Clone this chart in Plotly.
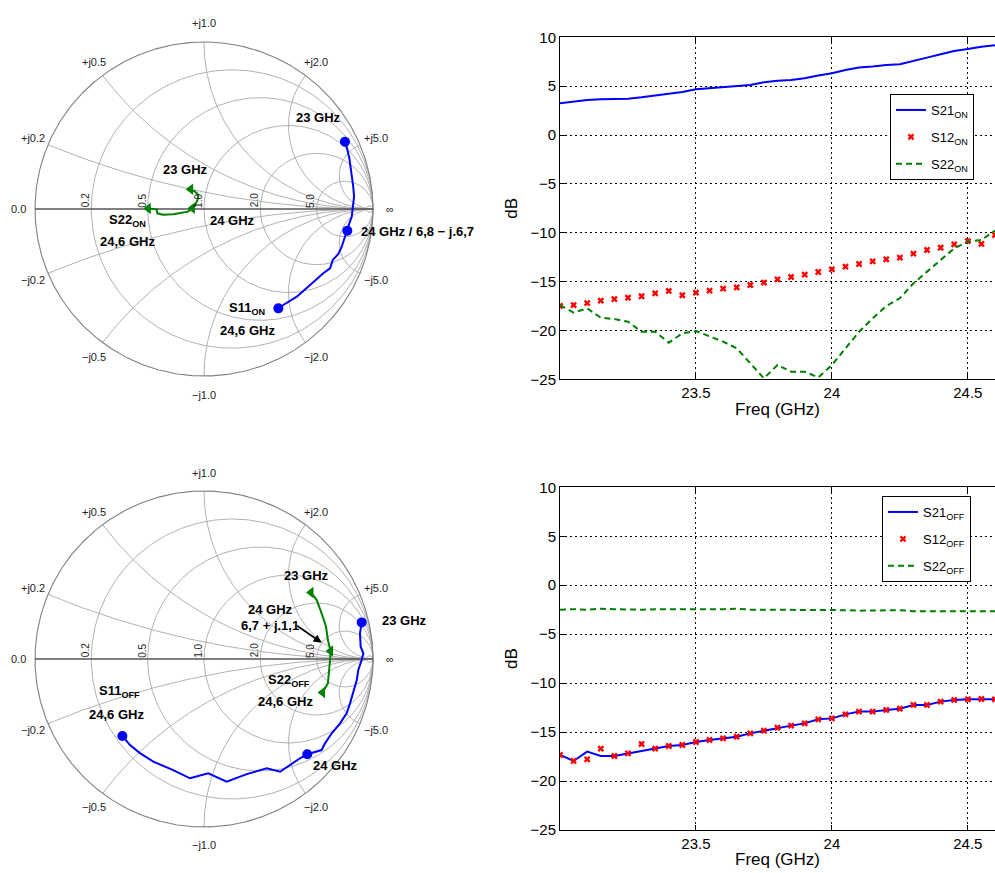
import numpy as np
import plotly.graph_objects as go

# ---------------- DATA ----------------
freq_ghz = [23.00, 23.05, 23.10, 23.15, 23.20, 23.25, 23.30, 23.35, 23.40, 23.45, 23.50,
            23.55, 23.60, 23.65, 23.70, 23.75, 23.80, 23.85, 23.90, 23.95, 24.00,
            24.05, 24.10, 24.15, 24.20, 24.25, 24.30, 24.35, 24.40, 24.45, 24.50,
            24.55, 24.60]

s21_on = [3.24, 3.41, 3.59, 3.65, 3.65, 3.72, 3.86, 4.06, 4.27, 4.40, 4.68,
          4.78, 4.85, 4.95, 5.12, 5.39, 5.56, 5.63, 5.80, 6.08, 6.32,
          6.66, 6.90, 7.00, 7.17, 7.24, 7.61, 7.92, 8.26, 8.60, 8.81,
          9.04, 9.18]
s12_on = [-17.5, -17.4, -17.2, -16.95, -16.8, -16.65, -16.5, -16.2, -15.96, -16.4, -16.13,
          -15.93, -15.72, -15.6, -15.35, -15.1, -14.77, -14.53, -14.29, -14.02, -13.75,
          -13.47, -13.2, -12.93, -12.72, -12.55, -12.14, -11.77, -11.53, -11.19, -10.85,
          -11.15, -10.23]
s22_on = [-17.4, -18.18, -17.74, -18.7, -18.83, -19.1, -20.13, -20.13, -21.25, -20.3, -20.06,
          -20.64, -21.15, -21.83, -23.37, -24.9, -23.54, -24.22, -24.22, -24.8, -23.54,
          -21.83, -20.13, -18.76, -17.5, -16.71, -15.18, -13.98, -12.79, -11.6, -10.91,
          -10.74, -9.79]

s21_off = [-17.34, -17.95, -17.0, -17.44, -17.44, -17.17, -16.93, -16.69, -16.42, -16.32, -16.01,
           -15.81, -15.64, -15.47, -15.13, -14.86, -14.55, -14.34, -14.11, -13.7, -13.6,
           -13.19, -12.91, -12.91, -12.74, -12.61, -12.23, -12.23, -11.89, -11.72, -11.65,
           -11.62, -11.65]
s12_off = [-17.34, -17.95, -17.78, -16.69, -17.44, -17.17, -16.22, -16.69, -16.42, -16.32, -16.01,
           -15.81, -15.64, -15.47, -15.13, -14.86, -14.55, -14.34, -14.11, -13.7, -13.6,
           -13.19, -12.91, -12.91, -12.74, -12.61, -12.23, -12.23, -11.89, -11.72, -11.65,
           -11.62, -11.65]
s22_off = [-2.5, -2.45, -2.5, -2.4, -2.45, -2.5, -2.5, -2.45, -2.45, -2.45, -2.5,
           -2.45, -2.45, -2.4, -2.5, -2.5, -2.5, -2.5, -2.5, -2.5, -2.5,
           -2.55, -2.6, -2.6, -2.6, -2.55, -2.65, -2.65, -2.65, -2.65, -2.7,
           -2.7, -2.65]

# Smith chart traces (reflection coefficient, real / imaginary parts)
s11_on_re = [0.834, 0.844, 0.860, 0.870, 0.880, 0.883, 0.888, 0.883, 0.874, 0.860, 0.848,
             0.834, 0.815, 0.795, 0.762, 0.746, 0.706, 0.627, 0.549, 0.469, 0.440]
s11_on_im = [0.403, 0.373, 0.304, 0.234, 0.184, 0.134, 0.074, 0.014, -0.046, -0.086, -0.130,
             -0.166, -0.226, -0.269, -0.305, -0.355, -0.385, -0.455, -0.525, -0.575, -0.595]
s11_on_marks = [0, 10, 20]

s22_on_re = [-0.079, -0.053, -0.034, -0.038, -0.050, -0.069, -0.095, -0.142, -0.182, -0.243,
             -0.276, -0.280, -0.330]
s22_on_im = [0.118, 0.104, 0.084, 0.054, 0.030, 0.004, -0.016, -0.026, -0.032, -0.034,
             -0.026, -0.002, 0.003]
s22_on_marks = [0, 5, 12]

s11_off_re = [0.933, 0.923, 0.927, 0.943, 0.933, 0.913, 0.904, 0.883, 0.864, 0.844, 0.805,
              0.756, 0.716, 0.696, 0.667, 0.611, 0.568, 0.509, 0.450, 0.371, 0.253,
              0.134, 0.025, -0.083, -0.182, -0.300, -0.379, -0.438, -0.483]
s11_off_im = [0.218, 0.153, 0.073, 0.034, -0.006, -0.065, -0.125, -0.204, -0.264, -0.323, -0.383,
              -0.442, -0.502, -0.542, -0.552, -0.567, -0.591, -0.631, -0.671, -0.651, -0.685,
              -0.730, -0.680, -0.710, -0.661, -0.611, -0.560, -0.512, -0.458]
s11_off_marks = [0, 15, 28]

s22_off_re = [0.633, 0.667, 0.696, 0.722, 0.733, 0.749, 0.746, 0.741, 0.733, 0.701]
s22_off_im = [0.396, 0.351, 0.272, 0.192, 0.113, 0.048, -0.006, -0.065, -0.145, -0.199]
s22_off_marks = [0, 5, 9]

r_circles = [0.2, 0.5, 1.0, 2.0, 5.0, 50.0]
x_arcs = [0.2, 0.5, 1.0, 2.0, 5.0]
x_ticks = [23.5, 24, 24.5]
y_ticks = [10, 5, 0, -5, -10, -15, -20, -25]

BLUE = "#0000ff"
RED = "#ff0000"
GREEN = "#008000"
FONT = "Arial, 'Liberation Sans', sans-serif"

W, H = 995, 873


def px(x):
    return x / W


def py(y):
    return 1 - y / H


fig = go.Figure()


# ---------------- Smith grid ----------------
def smith_grid():
    gx, gy = [], []
    for r in r_circles:
        c = r / (1 + r)
        rad = 1 / (1 + r)
        t = np.linspace(0, 2 * np.pi, 361)
        gx += list(c + rad * np.cos(t)) + [None]
        gy += list(rad * np.sin(t)) + [None]
    for xv in x_arcs:
        for s in (1, -1):
            xx = s * xv
            pr = (xx ** 2 - 1) / (xx ** 2 + 1)
            pi_ = 2 * xx / (xx ** 2 + 1)
            cx, cy = 1.0, 1.0 / xx
            a0 = np.arctan2(pi_ - cy, pr - cx) % (2 * np.pi)
            a1 = np.arctan2(0 - cy, 1 - cx) % (2 * np.pi)
            if s > 0:
                if a0 > a1:
                    a0 -= 2 * np.pi
            else:
                if a1 > a0:
                    a1 -= 2 * np.pi
            t = np.linspace(a0, a1, 200)
            rad = abs(1.0 / xx)
            gx += list(cx + rad * np.cos(t)) + [None]
            gy += list(cy + rad * np.sin(t)) + [None]
    return gx, gy


def add_smith(xa, ya):
    gx, gy = smith_grid()
    fig.add_trace(go.Scatter(x=gx, y=gy, mode="lines", line=dict(color="#a8a8a8", width=0.9),
                             xaxis=xa, yaxis=ya, showlegend=False, hoverinfo="skip"))
    t = np.linspace(0, 2 * np.pi, 721)
    fig.add_trace(go.Scatter(x=np.cos(t), y=np.sin(t), mode="lines",
                             line=dict(color="#808080", width=1.1),
                             xaxis=xa, yaxis=ya, showlegend=False, hoverinfo="skip"))
    fig.add_trace(go.Scatter(x=[-1, 1], y=[0, 0], mode="lines",
                             line=dict(color="#555555", width=1.3),
                             xaxis=xa, yaxis=ya, showlegend=False, hoverinfo="skip"))


def add_curve(xa, ya, re, im, marks, color, symbol, size):
    fig.add_trace(go.Scatter(x=re, y=im, mode="lines", line=dict(color=color, width=2),
                             xaxis=xa, yaxis=ya, showlegend=False))
    fig.add_trace(go.Scatter(x=[re[i] for i in marks], y=[im[i] for i in marks], mode="markers",
                             marker=dict(color=color, symbol=symbol, size=size),
                             xaxis=xa, yaxis=ya, showlegend=False))


add_smith("x", "y")
add_curve("x", "y", s22_on_re, s22_on_im, s22_on_marks, GREEN, "triangle-left", 10)
add_curve("x", "y", s11_on_re, s11_on_im, s11_on_marks, BLUE, "circle", 10)

add_smith("x3", "y3")
add_curve("x3", "y3", s22_off_re, s22_off_im, s22_off_marks, GREEN, "triangle-left", 10)
add_curve("x3", "y3", s11_off_re, s11_off_im, s11_off_marks, BLUE, "circle", 10)

# ---------------- S-parameter plots ----------------
fig.add_trace(go.Scatter(x=freq_ghz, y=s21_on, mode="lines", line=dict(color=BLUE, width=2),
                         name="S21<sub>ON</sub>", xaxis="x2", yaxis="y2", legend="legend",
                         legendgroup="a"))
fig.add_trace(go.Scatter(x=freq_ghz, y=s12_on, mode="markers",
                         marker=dict(color=RED, symbol="x", size=6),
                         name="S12<sub>ON</sub>", xaxis="x2", yaxis="y2", legend="legend",
                         legendgroup="b"))
fig.add_trace(go.Scatter(x=freq_ghz, y=s22_on, mode="lines",
                         line=dict(color=GREEN, width=2, dash="6px,4px"),
                         name="S22<sub>ON</sub>", xaxis="x2", yaxis="y2", legend="legend",
                         legendgroup="c"))

fig.add_trace(go.Scatter(x=freq_ghz, y=s21_off, mode="lines", line=dict(color=BLUE, width=2),
                         name="S21<sub>OFF</sub>", xaxis="x4", yaxis="y4", legend="legend2",
                         legendgroup="d"))
fig.add_trace(go.Scatter(x=freq_ghz, y=s12_off, mode="markers",
                         marker=dict(color=RED, symbol="x", size=6),
                         name="S12<sub>OFF</sub>", xaxis="x4", yaxis="y4", legend="legend2",
                         legendgroup="e"))
fig.add_trace(go.Scatter(x=freq_ghz, y=s22_off, mode="lines",
                         line=dict(color=GREEN, width=2, dash="6px,4px"),
                         name="S22<sub>OFF</sub>", xaxis="x4", yaxis="y4", legend="legend2",
                         legendgroup="f"))

# ---------------- Axes ----------------
smith_ax = dict(visible=False, showgrid=False, zeroline=False, fixedrange=True, automargin=False)
fig.update_layout(
    xaxis=dict(smith_ax, domain=[px(14), px(394)], range=[-190 / 169, 190 / 169], anchor="y"),
    yaxis=dict(smith_ax, domain=[py(398), py(20)], range=[-189 / 167, 189 / 167], anchor="x"),
    xaxis3=dict(smith_ax, domain=[px(14), px(394)], range=[-190 / 169, 190 / 169], anchor="y3"),
    yaxis3=dict(smith_ax, domain=[py(848), py(470)], range=[-189 / 168, 189 / 168], anchor="x3"),
)

line_ax = dict(showline=True, linecolor="black", linewidth=1, ticks="inside", ticklen=5,
               tickcolor="black", showgrid=True, gridcolor="black", griddash="2px,3px",
               gridwidth=1, zeroline=False, tickfont=dict(size=15, color="black", family=FONT),
               fixedrange=True, automargin=False)
fig.update_layout(
    xaxis2=dict(line_ax, domain=[px(560), 1.0], range=[23, 24.6], tickvals=x_ticks,
                ticktext=["23.5", "24", "24.5"], mirror="ticks", anchor="y2",
                title=dict(text="Freq (GHz)", font=dict(size=17, family=FONT, color="black"),
                           standoff=2)),
    yaxis2=dict(line_ax, domain=[py(379.3), py(37.3)], range=[-25, 10], tickvals=y_ticks,
                anchor="x2", title=dict(text="dB", font=dict(size=17, family=FONT, color="black"),
                                        standoff=8)),
    xaxis4=dict(line_ax, domain=[px(560), 1.0], range=[23, 24.6], tickvals=x_ticks,
                ticktext=["23.5", "24", "24.5"], mirror="ticks", anchor="y4",
                title=dict(text="Freq (GHz)", font=dict(size=17, family=FONT, color="black"),
                           standoff=2)),
    yaxis4=dict(line_ax, domain=[py(830), py(487.3)], range=[-25, 10], tickvals=y_ticks,
                anchor="x4", title=dict(text="dB", font=dict(size=17, family=FONT, color="black"),
                                        standoff=8)),
)

# ---------------- Smith labels ----------------
ann = []


def lab(xref, yref, x, y, text, size=11, angle=0, color="#222222", xanchor="center", bold=False):
    t = f"<b>{text}</b>" if bold else text
    ann.append(dict(x=x, y=y, xref=xref, yref=yref, text=t, showarrow=False, textangle=angle,
                    font=dict(size=size, color=color, family=FONT), xanchor=xanchor,
                    yanchor="middle"))


for xr, yr, ry in (("x", "y", 167), ("x3", "y3", 168)):
    k = 167 / ry
    lab(xr, yr, 0, 1.114 * k, "+j1.0")
    lab(xr, yr, 0, -1.114 * k, "\u2212j1.0")
    lab(xr, yr, -0.65, 0.880 * k, "+j0.5")
    lab(xr, yr, -0.65, -0.886 * k, "\u2212j0.5")
    lab(xr, yr, 0.663, 0.880 * k, "+j2.0")
    lab(xr, yr, 0.663, -0.886 * k, "\u2212j2.0")
    lab(xr, yr, -1.012, 0.425 * k, "+j0.2")
    lab(xr, yr, -1.012, -0.425 * k, "\u2212j0.2")
    lab(xr, yr, 1.018, 0.425 * k, "+j5.0")
    lab(xr, yr, 1.018, -0.425 * k, "\u2212j5.0")
    lab(xr, yr, -1.10, 0, "0.0")
    lab(xr, yr, 1.10, 0, "\u221e")
    for xv, txt in ((-0.701, "0.2"), (-0.366, "0.5"), (-0.034, "1.0"), (0.299, "2.0"), (0.630, "5.0")):
        lab(xr, yr, xv, 0.05, txt, size=10, angle=-90)

# data labels top
lab("x", "y", 0.675, 0.545, "23 GHz", size=13, color="black", bold=True)
lab("x", "y", -0.112, 0.234, "23 GHz", size=13, color="black", bold=True)
lab("x", "y", 0.166, -0.066, "24 GHz", size=13, color="black", bold=True)
lab("x", "y", -0.45, -0.066, "S22<sub>ON</sub>", size=13, color="black", bold=True)
lab("x", "y", -0.45, -0.196, "24,6 GHz", size=13, color="black", bold=True)
lab("x", "y", 0.255, -0.594, "S11<sub>ON</sub>", size=13, color="black", bold=True)
lab("x", "y", 0.260, -0.725, "24,6 GHz", size=13, color="black", bold=True)
lab("x", "y", 0.917, -0.132, "24 GHz / 6,8 \u2212 j.6,7", size=13, color="black",
    xanchor="left", bold=True)

# data labels bottom
lab("x3", "y3", 0.604, 0.500, "23 GHz", size=13, color="black", bold=True)
lab("x3", "y3", 0.391, 0.292, "24 GHz", size=13, color="black", bold=True)
lab("x3", "y3", 0.391, 0.202, "6,7 + j.1,1", size=13, color="black", bold=True)
lab("x3", "y3", 1.041, 0.232, "23 GHz", size=13, color="black", xanchor="left", bold=True)
lab("x3", "y3", 0.50, -0.125, "S22<sub>OFF</sub>", size=13, color="black", bold=True)
lab("x3", "y3", 0.485, -0.254, "24,6 GHz", size=13, color="black", bold=True)
lab("x3", "y3", -0.50, -0.194, "S11<sub>OFF</sub>", size=13, color="black", bold=True)
lab("x3", "y3", -0.515, -0.333, "24,6 GHz", size=13, color="black", bold=True)
lab("x3", "y3", 0.781, -0.631, "24 GHz", size=13, color="black", bold=True)

ann.append(dict(x=0.696, y=0.097, xref="x3", yref="y3", ax=-26, ay=-18, text="",
                showarrow=True, arrowhead=2, arrowsize=1, arrowwidth=1.6, arrowcolor="black"))

fig.update_layout(annotations=ann)

legend_common = dict(xanchor="left", yanchor="top", bordercolor="black", borderwidth=1,
                     bgcolor="white", font=dict(size=13, family=FONT, color="black"),
                     tracegroupgap=7, itemwidth=30)
fig.update_layout(
    legend=dict(legend_common, x=px(890), y=py(94)),
    legend2=dict(legend_common, x=px(882), y=py(496)),
    width=W, height=H, margin=dict(l=0, r=0, t=0, b=0, pad=0, autoexpand=False),
    paper_bgcolor="white", plot_bgcolor="white",
    font=dict(family=FONT, color="black"),
    showlegend=True,
)

fig.write_html("out.html", config={"displayModeBar": False},
               post_script="document.body.style.margin='0';document.body.style.overflow='hidden';")
